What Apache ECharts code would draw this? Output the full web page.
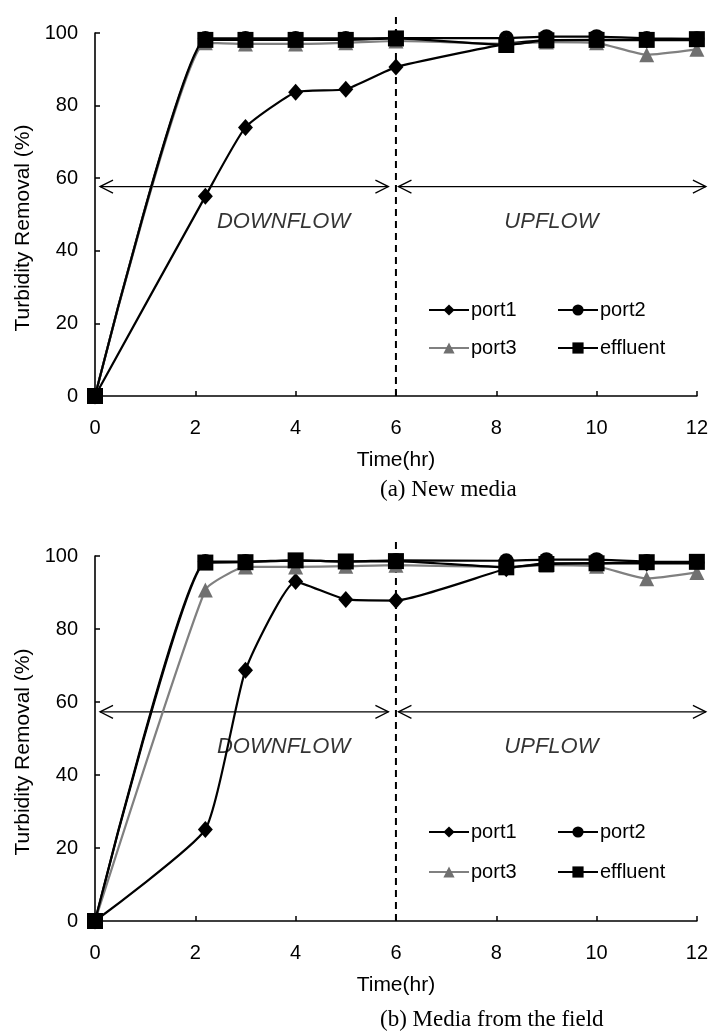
<!DOCTYPE html>
<html>
<head>
<meta charset="utf-8">
<script src="https://cdn.jsdelivr.net/npm/echarts@6/dist/echarts.min.js"></script>
<style>
html, body { margin: 0; padding: 0; background: #ffffff; }
#chart { width: 711px; height: 1034px; }
</style>
</head>
<body>
<div id="chart"></div>
<script>
// ---- data ----
const times = [0, 2.2, 3, 4, 5, 6, 8.2, 9, 10, 11, 12];

// (a) New media
const port1A    = [0, 55.0, 74.0, 83.7, 84.5, 90.6, 97.0, 98.0, 98.0, 98.0, 98.0];
const port2A    = [0, 98.5, 98.5, 98.5, 98.5, 98.6, 98.6, 99.0, 99.0, 98.5, 98.4];
const port3A    = [0, 97.3, 97.0, 97.0, 97.3, 97.8, 97.0, 97.5, 97.3, 94.0, 95.5];
const effluentA = [0, 98.1, 98.1, 98.1, 98.1, 98.5, 96.7, 98.0, 98.1, 98.1, 98.3];

// (b) Media from the field
const port1B    = [0, 25.1, 68.7, 93.0, 88.1, 87.8, 96.5, 98.0, 98.0, 98.0, 98.0];
const port2B    = [0, 98.5, 98.5, 98.8, 98.5, 98.8, 98.7, 99.0, 99.0, 98.5, 98.3];
const port3B    = [0, 90.7, 97.0, 97.0, 97.2, 97.5, 97.0, 97.5, 97.2, 93.8, 95.5];
const effluentB = [0, 98.2, 98.3, 98.8, 98.5, 98.6, 96.9, 97.8, 98.0, 98.3, 98.4];

const seriesNames = ['port1', 'port2', 'port3', 'effluent'];
const xTickValues = [0, 2, 4, 6, 8, 10, 12];
const yTickValues = [0, 20, 40, 60, 80, 100];
const xTitle = 'Time(hr)';
const yTitle = 'Turbidity Removal (%)';
const phaseLabels = ['DOWNFLOW', 'UPFLOW'];
const captions = ['(a) New media', '(b) Media from the field'];

// annotations in data units: [x1, y1, x2, y2, kind] (kind 0 = dashed divider, 1 = double arrow)
const guidesA = [[6, 0, 6, 105.5, 0], [0.1, 57.7, 5.85, 57.7, 1], [6.05, 57.7, 12.18, 57.7, 1]];
const guidesB = [[6, 0, 6, 104.9, 0], [0.1, 57.3, 5.85, 57.3, 1], [6.05, 57.3, 12.18, 57.3, 1]];
const labelX = [3.76, 9.1];
const labelYA = 48, labelYB = 47.7;

// ---- styles ----
const FONT = 'Liberation Sans, Arial, sans-serif';
const styles = {
  port1:    { symbol: 'diamond',  size: [15, 17], color: '#000000', line: '#000000' },
  port2:    { symbol: 'circle',   size: 15,       color: '#000000', line: '#000000' },
  port3:    { symbol: 'triangle', size: 15,       color: '#707070', line: '#808080' },
  effluent: { symbol: 'rect',     size: 16,       color: '#000000', line: '#000000' }
};

function lineSeries(name, vals, idx) {
  const st = styles[name];
  return {
    type: 'line',
    name: name,
    xAxisIndex: idx,
    yAxisIndex: idx,
    data: times.map((t, i) => [t, vals[i]]),
    smooth: 0.15,
    symbol: st.symbol,
    symbolSize: st.size,
    showAllSymbol: true,
    lineStyle: { color: st.line, width: 2.2 },
    itemStyle: { color: st.color },
    emphasis: { disabled: true },
    clip: false,
    z: 3
  };
}

function labelSeries(idx, labelY) {
  return {
    type: 'scatter',
    name: 'labels' + idx,
    xAxisIndex: idx,
    yAxisIndex: idx,
    data: phaseLabels.map((t, i) => [labelX[i], labelY, t]),
    symbolSize: 0,
    clip: false,
    silent: true,
    label: {
      show: true,
      position: 'inside',
      formatter: p => p.value[2],
      fontFamily: FONT,
      fontStyle: 'italic',
      fontSize: 22,
      color: '#000000'
    }
  };
}

function guideSeries(idx, guides) {
  return {
    type: 'custom',
    name: 'guides' + idx,
    xAxisIndex: idx,
    yAxisIndex: idx,
    data: guides,
    encode: { x: [0, 2], y: [1, 3] },
    clip: false,
    silent: true,
    z: 1,
    renderItem: function (params, api) {
      const a = api.coord([api.value(0), api.value(1)]);
      const b = api.coord([api.value(2), api.value(3)]);
      if (api.value(4) === 0) {
        return {
          type: 'line',
          shape: { x1: a[0], y1: a[1], x2: b[0], y2: b[1] },
          style: { stroke: '#000000', lineWidth: 2, lineDash: [7, 5] }
        };
      }
      const L = 13, H = 6.5;
      return {
        type: 'group',
        children: [
          { type: 'line', shape: { x1: a[0], y1: a[1], x2: b[0], y2: b[1] },
            style: { stroke: '#000000', lineWidth: 1.3 } },
          { type: 'polyline', shape: { points: [[a[0] + L, a[1] - H], [a[0], a[1]], [a[0] + L, a[1] + H]] },
            style: { stroke: '#000000', lineWidth: 1.3, fill: null } },
          { type: 'polyline', shape: { points: [[b[0] - L, b[1] - H], [b[0], b[1]], [b[0] - L, b[1] + H]] },
            style: { stroke: '#000000', lineWidth: 1.3, fill: null } }
        ]
      };
    }
  };
}

function xAxis(idx) {
  return {
    type: 'value', gridIndex: idx, min: 0, max: 12, interval: 2,
    name: xTitle, nameLocation: 'middle', nameGap: 54,
    nameTextStyle: { fontFamily: FONT, fontSize: 21, color: '#000000' },
    axisLine: { lineStyle: { color: '#000000', width: 1.6 } },
    axisTick: { inside: true, length: 5, lineStyle: { color: '#000000', width: 1.5 } },
    axisLabel: { margin: 22, fontFamily: FONT, fontSize: 20, color: '#000000',
      formatter: v => xTickValues.includes(v) ? String(v) : '' },
    splitLine: { show: false }
  };
}
function yAxis(idx) {
  return {
    type: 'value', gridIndex: idx, min: 0, max: 100, interval: 20,
    name: yTitle, nameLocation: 'middle', nameGap: 60, nameRotate: 90,
    nameTextStyle: { fontFamily: FONT, fontSize: 21, color: '#000000', padding: [0, 27, 0, 0] },
    axisLine: { show: true, lineStyle: { color: '#000000', width: 1.6 } },
    axisTick: { show: true, inside: true, length: 5, lineStyle: { color: '#000000', width: 1.5 } },
    axisLabel: { margin: 17, fontFamily: FONT, fontSize: 20, color: '#000000',
      formatter: v => yTickValues.includes(v) ? String(v) : '' },
    splitLine: { show: false }
  };
}

function legends(rowTops) {
  const cols = [428, 557];
  return seriesNames.map((n, i) => ({
    data: [n],
    left: cols[i % 2],
    top: rowTops[Math.floor(i / 2)],
    orient: 'horizontal',
    padding: 0,
    itemWidth: 40,
    itemHeight: 14,
    selectedMode: false,
    textStyle: { fontFamily: FONT, fontSize: 20, color: '#000000', padding: [0, 0, 0, -3] }
  }));
}

const option = {
  backgroundColor: '#ffffff',
  animation: false,
  grid: [
    { left: 95, top: 33, width: 606, height: 363 },
    { left: 95, top: 556, width: 606, height: 365 }
  ],
  xAxis: [xAxis(0), xAxis(1)],
  yAxis: [yAxis(0), yAxis(1)],
  legend: [...legends([300, 338]), ...legends([822, 862])],
  graphic: [
    { type: 'text', left: 380, top: 478, style: { text: captions[0], font: '23px "Liberation Serif", "Times New Roman", serif', fill: '#000000', align: 'center' } },
    { type: 'text', left: 380, top: 1008, style: { text: captions[1], font: '23px "Liberation Serif", "Times New Roman", serif', fill: '#000000', align: 'center' } }
  ],
  series: [
    guideSeries(0, guidesA),
    lineSeries('port1', port1A, 0),
    lineSeries('port2', port2A, 0),
    lineSeries('port3', port3A, 0),
    lineSeries('effluent', effluentA, 0),
    labelSeries(0, labelYA),
    guideSeries(1, guidesB),
    lineSeries('port1', port1B, 1),
    lineSeries('port2', port2B, 1),
    lineSeries('port3', port3B, 1),
    lineSeries('effluent', effluentB, 1),
    labelSeries(1, labelYB)
  ]
};

const chart = echarts.init(document.getElementById('chart'), null, { renderer: 'canvas' });
chart.setOption(option);
</script>
</body>
</html>
